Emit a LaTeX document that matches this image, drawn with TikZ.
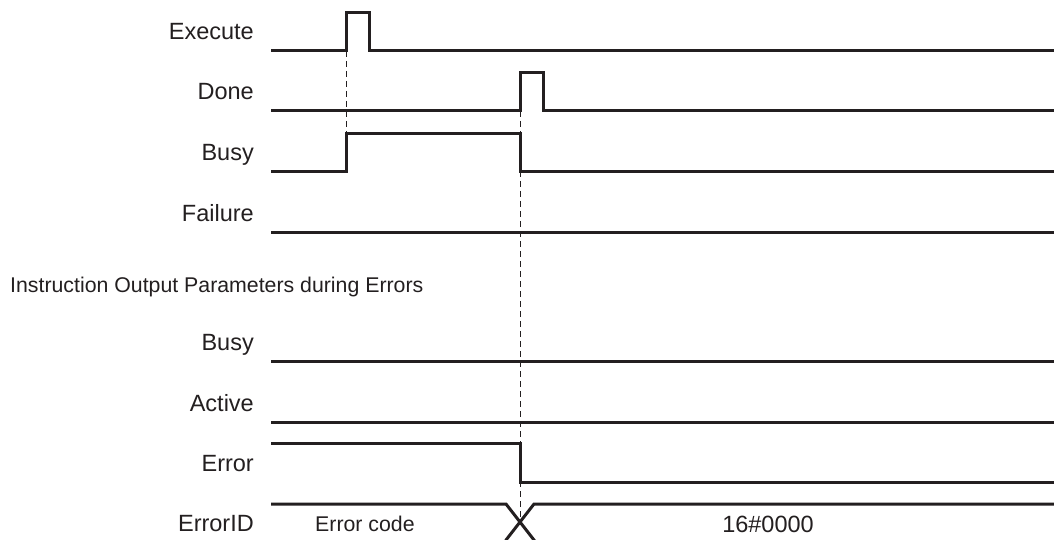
\documentclass[tikz,border=0pt]{standalone}
\usepackage{fontspec}
\setmainfont{Liberation Sans}
\usetikzlibrary{positioning}
\definecolor{cSig}{HTML}{231F20}
\tikzset{
  sig/.style={line width=3pt, cSig, line join=miter},
  guide/.style={cSig, line width=1pt, dash pattern=on 6pt off 4pt},
  lbl/.style={anchor=base east, inner sep=0pt, text=cSig, font=\fontsize{23.5}{28}\selectfont},
  txt/.style={inner sep=0pt, text=cSig, font=\fontsize{21.3}{26}\selectfont},
}
\begin{document}
\begin{tikzpicture}[x=1pt, y=-1pt]
  \useasboundingbox (0,0) rectangle (1054,540);
  \clip (0,0) rectangle (1054,540);
  % signal names
  \node[lbl] (nExe) at (254,40) {Execute};
  \node[lbl] (nDone) at (254,100) {Done};
  \node[lbl] (nBusy) at (254,161) {Busy};
  \node[lbl] (nFail) at (254,221) {Failure};
  \node[txt, anchor=base west] (head) at (10,292) {Instruction Output Parameters during Errors};
  \node[lbl] (nBusyE) at (254,350) {Busy};
  \node[lbl] (nAct) at (254,411) {Active};
  \node[lbl] (nErr) at (254,471) {Error};
  \node[lbl] (nID) at (254,531) {ErrorID};
  % guide lines
  \draw[guide] (346,51) -- (346,134);
  \draw[guide] (520,111) -- (520,522);
  % waveforms
  \draw[sig] (271,51) -- (346,51) -- (346,13) -- (369,13) -- (369,51) -- (1054,51);
  \draw[sig] (271,111) -- (520,111) -- (520,73) -- (543,73) -- (543,111) -- (1054,111);
  \draw[sig] (271,172) -- (346,172) -- (346,134) -- (520,134) -- (520,172) -- (1054,172);
  \foreach \y in {232,361,422}
    \draw[sig] (271,\y) -- (1054,\y);
  \draw[sig] (271,443) -- (520,443) -- (520,482) -- (1054,482);
  % error code bus
  \draw[sig] (271,504) -- (506,504) -- (534,540) -- (534,542) -- (1054,542);
  \draw[sig] (271,542) -- (506,542) -- (506,540) -- (534,504) -- (1054,504);
  \node[txt, anchor=base west] (vOld) at (315,531) {Error code};
  \node[lbl, anchor=base] (vNew) at (768,532) {16\#0000};
\end{tikzpicture}
\end{document}
